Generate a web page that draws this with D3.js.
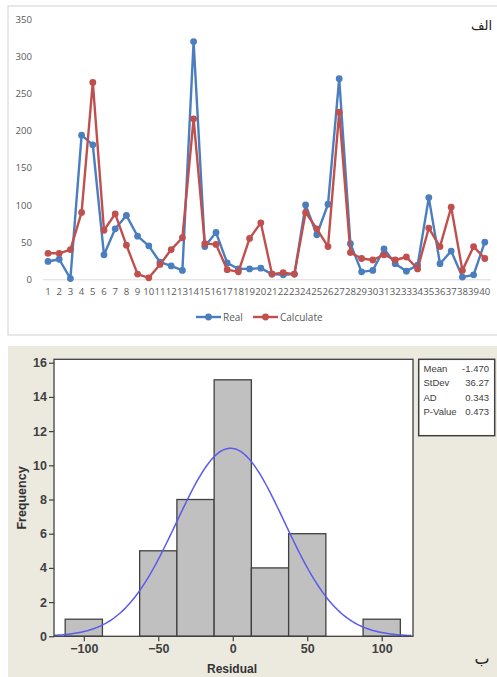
<!DOCTYPE html>
<html><head><meta charset="utf-8">
<script src="https://cdn.jsdelivr.net/npm/d3@7"></script>
<style>html,body{margin:0;padding:0;background:#fff;}svg{display:block;}</style>
</head><body>
<svg id="c" width="497" height="677"></svg>
<script>
// ---- Data: top line chart ----
const categories = d3.range(1, 41).map(String);
const realValues = [24,27,1,194,181,33,68,86,58,45,23,18,12,320,44,63,22,14,14,15,7,6,7,100,60,101,270,48,10,12,41,21,11,19,110,21,38,3,6,50];
const calcValues = [35,35,40,90,265,66,88,46,7,2,20,40,56,216,48,47,13,10,55,76,7,9,7,90,68,44,225,36,28,26,33,26,30,14,69,44,97,12,44,28];
const seriesNames = ["Real", "Calculate"];
const yTicksTop = [0,50,100,150,200,250,300,350];

// ---- Data: bottom histogram ----
const binCenters = [-100,-50,-25,0,25,50,100];
const binCounts = [1,5,8,15,4,6,1];
const binWidth = 25;
const xTicksHist = [-100,-50,0,50,100];
const yTicksHist = [0,2,4,6,8,10,12,14,16];
const statLabels = ["Mean","StDev","AD","P-Value"];
const statValues = ["-1.470","36.27","0.343","0.473"];
const fitMean = -1.470, fitSd = 36.27, sampleN = 40;

const svg = d3.select("#c");

// ================= TOP PANEL =================
svg.append("rect").attr("x",8).attr("y",6).attr("width",500).attr("height",329)
  .attr("fill","#fff").attr("stroke","#d9d9d9").attr("stroke-width",1.2);

const xT = d3.scaleBand().domain(categories).range([42.4, 490.4]);
const yT = d3.scaleLinear().domain([0,350]).range([279.3, 19.3]);
const fontTop = "'Open Sans','Noto Sans','Liberation Sans',sans-serif";

const gy = svg.append("g").attr("transform","translate(42,0)")
  .call(d3.axisLeft(yT).tickValues(yTicksTop).tickSize(0).tickPadding(10));
gy.select(".domain").remove();
gy.selectAll("text").attr("font-family",fontTop).attr("font-size",9.6).attr("fill","#595959");

const gx = svg.append("g").attr("transform","translate(0,279.3)")
  .call(d3.axisBottom(xT).tickSize(0).tickPadding(9));
gx.select(".domain").attr("stroke","#d9d9d9").attr("stroke-width",1);
gx.selectAll("text").attr("font-family",fontTop).attr("font-size",9.6).attr("fill","#595959");

const colors = ["#4a7ebf","#c0504d"];
const allSeries = [realValues, calcValues];
const cx = c => xT(c) + xT.bandwidth()/2;
allSeries.forEach((vals, i) => {
  const pts = categories.map((c, j) => [cx(c), yT(vals[j])]);
  svg.append("path").attr("d", d3.line()(pts)).attr("fill","none")
    .attr("stroke",colors[i]).attr("stroke-width",2.4).attr("stroke-linejoin","round");
  svg.append("g").selectAll("circle").data(pts).join("circle")
    .attr("cx",d=>d[0]).attr("cy",d=>d[1]).attr("r",3.4).attr("fill",colors[i]);
});

// legend
const legX = [196, 253];
seriesNames.forEach((n, i) => {
  const g = svg.append("g");
  g.append("line").attr("x1",legX[i]).attr("x2",legX[i]+25).attr("y1",317).attr("y2",317)
    .attr("stroke",colors[i]).attr("stroke-width",2.4);
  g.append("circle").attr("cx",legX[i]+12.5).attr("cy",317).attr("r",3.4).attr("fill",colors[i]);
  g.append("text").attr("x",legX[i]+27).attr("y",317).attr("dy","0.35em")
    .attr("font-family",fontTop).attr("font-size",10).attr("fill","#595959").text(n);
});

svg.append("text").attr("x",492).attr("y",30).attr("text-anchor","end")
  .attr("font-family","'DejaVu Sans',sans-serif").attr("font-size",13).attr("fill","#222").text("الف");

// ================= BOTTOM PANEL =================
svg.append("rect").attr("x",8).attr("y",346).attr("width",489).attr("height",331).attr("fill","#ece9df");

const xH = d3.scaleLinear().domain([-120,121]).range([54,413]);
const yH = d3.scaleLinear().domain([0,16.2]).range([636.3,359.3]);
const fontH = "'Liberation Sans Narrow','Liberation Sans',Arial,sans-serif";

svg.append("rect").attr("x",54).attr("y",359.3).attr("width",359).attr("height",277)
  .attr("fill","#fff");

// bars
svg.append("g").selectAll("rect").data(binCenters).join("rect")
  .attr("x",(d)=>xH(d-binWidth/2)).attr("width",(d)=>xH(d+binWidth/2)-xH(d-binWidth/2))
  .attr("y",(d,i)=>yH(binCounts[i])).attr("height",(d,i)=>yH(0)-yH(binCounts[i]))
  .attr("fill","#c0c0c0").attr("stroke","#404040").attr("stroke-width",1.3);

// fitted normal curve (from the mean and StDev in the stats box)
const curveX = d3.range(-120, 121, 1);
const dens = x => sampleN*binWidth*Math.exp(-0.5*((x-fitMean)/fitSd)**2)/(fitSd*Math.sqrt(2*Math.PI));
svg.append("path").attr("d", d3.line().x(d=>xH(d)).y(d=>yH(dens(d)))(curveX))
  .attr("fill","none").attr("stroke","#5a5aee").attr("stroke-width",1.5);

svg.append("rect").attr("x",54).attr("y",359.3).attr("width",359).attr("height",277)
  .attr("fill","none").attr("stroke","#404040").attr("stroke-width",1.3);

const hy = svg.append("g").attr("transform","translate(54,0)")
  .call(d3.axisLeft(yH).tickValues(yTicksHist).tickSize(5).tickPadding(2));
hy.select(".domain").remove();
hy.selectAll("line").attr("stroke","#404040").attr("stroke-width",1.2);
hy.selectAll("text").attr("font-family",fontH).attr("font-weight","bold").attr("font-size",12.5).attr("fill","#404040");

const hx = svg.append("g").attr("transform","translate(0,636.3)")
  .call(d3.axisBottom(xH).tickValues(xTicksHist).tickSize(5).tickPadding(3));
hx.select(".domain").remove();
hx.selectAll("line").attr("stroke","#404040").attr("stroke-width",1.2);
hx.selectAll("text").attr("font-family",fontH).attr("font-weight","bold").attr("font-size",12.5).attr("fill","#404040");

svg.append("text").attr("x",232).attr("y",669).attr("dy","0.35em").attr("text-anchor","middle")
  .attr("font-family","'Liberation Sans',Arial,sans-serif").attr("font-weight","bold").attr("font-size",12).attr("fill","#333").text("Residual");
svg.append("text").attr("transform","translate(22,498) rotate(-90)").attr("dy","0.35em").attr("text-anchor","middle")
  .attr("font-family","'Liberation Sans',Arial,sans-serif").attr("font-weight","bold").attr("font-size",12.5).attr("fill","#333").text("Frequency");

// stats box
svg.append("rect").attr("x",418.7).attr("y",359.3).attr("width",76).attr("height",76.4)
  .attr("fill","#fff").attr("stroke","#404040").attr("stroke-width",1.5);
const rowY = [368.3, 383, 397.5, 412];
statLabels.forEach((l,i)=>{
  svg.append("text").attr("x",423.5).attr("y",rowY[i]).attr("dy","0.35em")
    .attr("font-family","'Liberation Sans',Arial,sans-serif").attr("font-size",9.5).attr("fill","#404040").text(l);
  svg.append("text").attr("x",489).attr("y",rowY[i]).attr("dy","0.35em").attr("text-anchor","end")
    .attr("font-family","'Liberation Sans',Arial,sans-serif").attr("font-size",9.5).attr("fill","#404040").text(statValues[i]);
});

svg.append("text").attr("x",482).attr("y",664).attr("text-anchor","middle")
  .attr("font-family","'DejaVu Sans',sans-serif").attr("font-size",16).attr("fill","#222").text("ب");
</script>
</body></html>
